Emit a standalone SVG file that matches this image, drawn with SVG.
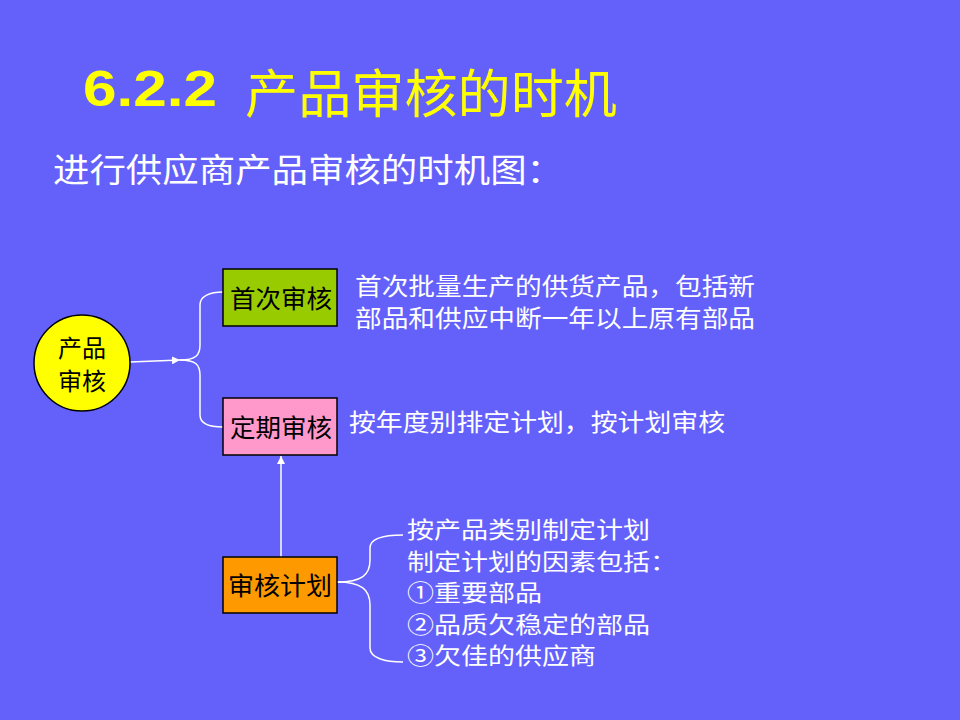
<svg xmlns="http://www.w3.org/2000/svg" width="960" height="720" viewBox="0 0 960 720">
<style>
.cjk{font-family:"Noto Sans CJK SC","Liberation Sans",sans-serif;}
.w{fill:#FFFFFF;}
.k{fill:#000000;}
.node{stroke:#000000;stroke-width:1.5;}
.conn{fill:none;stroke:#FFFFFF;stroke-width:1.5;}
</style>
<defs>
<marker id="arr" viewBox="0 0 10 10" refX="10" refY="5" markerWidth="8" markerHeight="8" markerUnits="userSpaceOnUse" orient="auto">
<path d="M0,0 L10,5 L0,10 z" fill="#FFFFFF"/>
</marker>
</defs>
<rect x="0" y="0" width="960" height="720" fill="#6461FB"/>
<g id="title">
<text x="83" y="106" font-family="Liberation Sans, Arial, sans-serif" font-weight="bold" font-size="50" fill="#FFFF00" textLength="134" lengthAdjust="spacingAndGlyphs">6.2.2</text>
<text x="245" y="113" class="cjk" font-size="52" fill="#FFFF00" textLength="372" lengthAdjust="spacingAndGlyphs">产品审核的时机</text>
</g>
<g id="subtitle">
<text x="53" y="182" class="cjk w" font-size="33" textLength="510" lengthAdjust="spacingAndGlyphs">进行供应商产品审核的时机图：</text>
</g>
<g id="connectors">
<line x1="130" y1="362" x2="180" y2="360" class="conn" marker-end="url(#arr)"/>
<path d="M180,360 C196,360 200,355 200,345 L200,305 C200,296 210,292 223,292" class="conn"/>
<path d="M180,360 C196,360 200,365 200,375 L200,415 C200,424 210,427 223,427" class="conn"/>
<line x1="281" y1="557" x2="281" y2="456" class="conn" marker-end="url(#arr)"/>
<path d="M337,582 C362,582 370,575 370,560 L370,548 C370,538 385,535 403,535" class="conn"/>
<path d="M337,582 C362,582 370,590 370,605 L370,648 C370,658 385,662 403,662" class="conn"/>
</g>
<g id="node-product-audit">
<ellipse cx="82" cy="363" rx="48" ry="48" fill="#FFFF00" class="node"/>
<text x="82" y="357" class="cjk k" font-size="24" text-anchor="middle">产品</text>
<text x="82" y="390" class="cjk k" font-size="24" text-anchor="middle">审核</text>
</g>
<g id="node-first-audit">
<rect x="223" y="269" width="114" height="57" fill="#99CC00" class="node"/>
<text x="230" y="308" class="cjk k" font-size="25" textLength="102" lengthAdjust="spacingAndGlyphs">首次审核</text>
</g>
<g id="node-periodic-audit">
<rect x="223" y="398" width="114" height="57" fill="#FF99CC" class="node"/>
<text x="230" y="437" class="cjk k" font-size="25" textLength="102" lengthAdjust="spacingAndGlyphs">定期审核</text>
</g>
<g id="node-audit-plan">
<rect x="223" y="557" width="114" height="56" fill="#FF9900" class="node"/>
<text x="228" y="595" class="cjk k" font-size="25" textLength="104" lengthAdjust="spacingAndGlyphs">审核计划</text>
</g>
<g id="desc-first" class="cjk w" font-size="24">
<text x="355" y="295" textLength="400" lengthAdjust="spacingAndGlyphs">首次批量生产的供货产品，包括新</text>
<text x="355" y="327" textLength="400" lengthAdjust="spacingAndGlyphs">部品和供应中断一年以上原有部品</text>
</g>
<g id="desc-periodic" class="cjk w" font-size="24">
<text x="349" y="431" textLength="376" lengthAdjust="spacingAndGlyphs">按年度别排定计划，按计划审核</text>
</g>
<g id="desc-plan" class="cjk w" font-size="22.5">
<text x="407" y="538" textLength="243" lengthAdjust="spacingAndGlyphs">按产品类别制定计划</text>
<text x="407" y="570" textLength="270" lengthAdjust="spacingAndGlyphs">制定计划的因素包括：</text>
<text x="407" y="601" textLength="135" lengthAdjust="spacingAndGlyphs">①重要部品</text>
<text x="407" y="633" textLength="243" lengthAdjust="spacingAndGlyphs">②品质欠稳定的部品</text>
<text x="407" y="664" textLength="189" lengthAdjust="spacingAndGlyphs">③欠佳的供应商</text>
</g>
</svg>
